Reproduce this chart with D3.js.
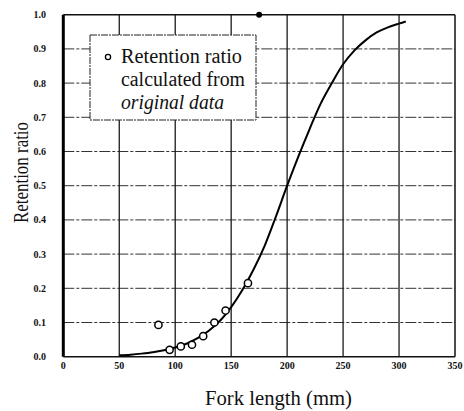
<!DOCTYPE html>
<meta charset="utf-8">
<style>
    body { margin: 0; background: #fff; }
</style>
<svg width="464" height="411"></svg>
<script src="https://d3js.org/d3.v7.min.js"></script>
<script>

    // observed retention ratios
    var obsLength = [85, 95, 105, 115, 125, 135, 145, 165];
    var obsRatio = [0.093, 0.02, 0.03, 0.035, 0.06, 0.10, 0.135, 0.215];

    // fitted curve
    var fitLength = [50, 60, 70, 80, 90, 100, 110, 120, 130, 140, 150, 160, 170, 180, 190, 200,
        210, 220, 230, 240, 250, 260, 270, 280, 290, 300, 306];
    var fitRatio = [0.004, 0.006, 0.009, 0.013, 0.019, 0.027, 0.038, 0.054, 0.076, 0.105, 0.145,
        0.195, 0.255, 0.325, 0.41, 0.50, 0.585, 0.665, 0.74, 0.80, 0.855, 0.895, 0.925, 0.948, 0.963, 0.974, 0.98];

    // lone filled marker on the top frame
    var topMark = [175, 1.0];

    var xTicks = [0, 50, 100, 150, 200, 250, 300, 350];
    var yTicks = [0.0, 0.1, 0.2, 0.3, 0.4, 0.5, 0.6, 0.7, 0.8, 0.9, 1.0];

    var legendLines = ["Retention ratio", "calculated from", "original data"];
    var legendWidths = [121, 124, 103];

    var serif = "Liberation Serif";

    var svg = d3.select("svg");

    var x = d3.scaleLinear().domain([0, 350]).range([63.3, 455]),
        y = d3.scaleLinear().domain([0, 1]).range([356.7, 14.7]);

    var g = svg.append("g");

    // horizontal grid (dash-dot)
    g.selectAll(".hgrid")
        .data(yTicks.filter(function (d) { return d > 0 && d < 1; }))
        .enter().append("line")
        .attr("x1", x(0)).attr("x2", x(350))
        .attr("y1", y).attr("y2", y)
        .attr("stroke", "#333")
        .attr("stroke-width", 1)
        .attr("stroke-dasharray", "11,2,3,2");

    // vertical grid
    g.selectAll(".vgrid")
        .data(xTicks.filter(function (d) { return d > 0 && d < 350; }))
        .enter().append("line")
        .attr("x1", x).attr("x2", x)
        .attr("y1", y(0)).attr("y2", y(1))
        .attr("stroke", "#1a1a1a")
        .attr("stroke-width", 1.3);

    // frame
    g.append("line").attr("x1", x(0)).attr("x2", x(350)).attr("y1", y(1)).attr("y2", y(1))
        .attr("stroke", "#111").attr("stroke-width", 1.5);
    g.append("line").attr("x1", x(350)).attr("x2", x(350)).attr("y1", y(0)).attr("y2", y(1))
        .attr("stroke", "#111").attr("stroke-width", 1.5);
    g.append("line").attr("x1", x(0)).attr("x2", x(350)).attr("y1", y(0)).attr("y2", y(0))
        .attr("stroke", "#111").attr("stroke-width", 1.6);
    g.append("line").attr("x1", x(0)).attr("x2", x(0)).attr("y1", y(0)).attr("y2", y(1))
        .attr("stroke", "#000").attr("stroke-width", 3);

    // tick labels
    g.selectAll(".xl")
        .data(xTicks)
        .enter().append("text")
        .style("font-family", serif)
        .attr("font-size", 10)
        .attr("font-weight", "bold")
        .attr("fill", "#111")
        .attr("x", x)
        .attr("y", 369)
        .attr("text-anchor", "middle")
        .text(function (d) { return d; });

    g.selectAll(".yl")
        .data(yTicks)
        .enter().append("text")
        .style("font-family", serif)
        .attr("font-size", 10)
        .attr("font-weight", "bold")
        .attr("fill", "#111")
        .attr("x", 46)
        .attr("y", function (d) { return y(d) + 3.5; })
        .attr("text-anchor", "end")
        .text(function (d) { return d3.format(".1f")(d); });

    // axis titles
    svg.append("text")
        .style("font-family", serif)
        .attr("font-size", 21)
        .attr("fill", "#111")
        .attr("x", 205)
        .attr("y", 405)
        .attr("textLength", 147)
        .attr("lengthAdjust", "spacingAndGlyphs")
        .text("Fork length (mm)");

    svg.append("text")
        .style("font-family", serif)
        .attr("font-size", 21)
        .attr("fill", "#111")
        .attr("transform", "translate(28,223) rotate(-90)")
        .attr("textLength", 101)
        .attr("lengthAdjust", "spacingAndGlyphs")
        .text("Retention ratio");

    // fitted curve
    var line = d3.line()
        .x(function (d) { return x(d[0]); })
        .y(function (d) { return y(d[1]); })
        .curve(d3.curveCatmullRom);

    g.append("path")
        .datum(d3.zip(fitLength, fitRatio))
        .attr("d", line)
        .attr("fill", "none")
        .attr("stroke", "#000")
        .attr("stroke-width", 2);

    // observed points
    g.selectAll(".pt")
        .data(d3.zip(obsLength, obsRatio))
        .enter().append("circle")
        .attr("cx", function (d) { return x(d[0]); })
        .attr("cy", function (d) { return y(d[1]); })
        .attr("r", 3.6)
        .attr("fill", "#fff")
        .attr("stroke", "#000")
        .attr("stroke-width", 1.5);

    g.append("circle")
        .attr("cx", x(topMark[0]))
        .attr("cy", y(topMark[1]))
        .attr("r", 3)
        .attr("fill", "#000");

    // legend
    var lg = svg.append("g").attr("transform", "translate(90,35)");
    lg.append("rect")
        .attr("width", 166)
        .attr("height", 85)
        .attr("fill", "#fff")
        .attr("stroke", "#222")
        .attr("stroke-width", 1)
        .attr("stroke-dasharray", "7,1,2,1");
    lg.append("circle")
        .attr("cx", 18)
        .attr("cy", 22)
        .attr("r", 2.6)
        .attr("fill", "#fff")
        .attr("stroke", "#000")
        .attr("stroke-width", 1.3);
    lg.selectAll(".lt")
        .data(legendLines)
        .enter().append("text")
        .style("font-family", serif)
        .attr("font-size", 20)
        .attr("fill", "#111")
        .attr("font-style", function (d, i) { return i === 2 ? "italic" : "normal"; })
        .attr("x", 31)
        .attr("y", function (d, i) { return 28 + i * 23; })
        .attr("textLength", function (d, i) { return legendWidths[i]; })
        .attr("lengthAdjust", "spacingAndGlyphs")
        .text(function (d) { return d; });

</script>
